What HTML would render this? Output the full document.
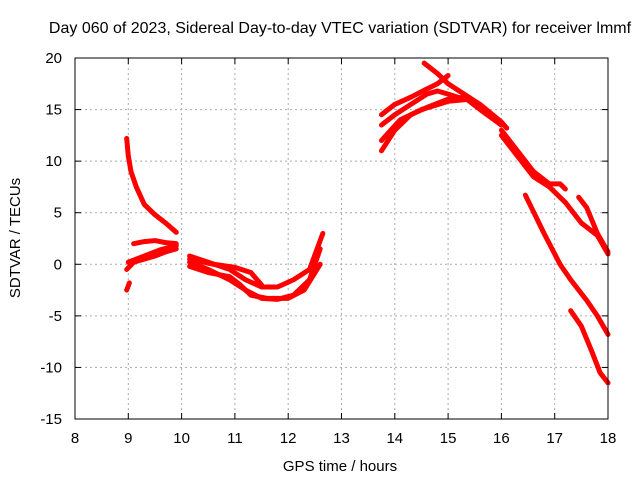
<!DOCTYPE html>
<html><head><meta charset="utf-8"><style>
body{margin:0;background:#fff}
svg{display:block;font-family:"Liberation Sans",sans-serif;font-size:15px}
</style></head><body>
<svg id="chart" width="640" height="480">
<text x="340" y="33" text-anchor="middle" style="font-size:16px">Day 060 of 2023, Sidereal Day-to-day VTEC variation (SDTVAR) for receiver lmmf</text>
<text x="340" y="471" text-anchor="middle">GPS time / hours</text>
<text transform="translate(20,238) rotate(-90)" text-anchor="middle">SDTVAR / TECUs</text>
<g id="grid"></g>
<g id="ticks"></g>
<g id="series"></g>
<rect x="75" y="58" width="533" height="361" fill="none" stroke="#000" stroke-width="1"/>
</svg>
<script>
const xTicks=[8,9,10,11,12,13,14,15,16,17,18];
const yTicks=[-15,-10,-5,0,5,10,15,20];
const s1=[[8.97,12.2],[9.0,10.5],[9.05,9],[9.15,7.5],[9.3,5.8],[9.5,4.8],[9.7,4],[9.9,3.1]];
const s2=[[8.97,-2.5],[9.02,-1.8]];
const s3a=[[8.97,-0.5],[9.1,0.2],[9.3,0.5],[9.5,0.8],[9.7,1.2],[9.9,1.5]];
const s3b=[[9.0,0.2],[9.2,0.6],[9.4,1.0],[9.6,1.4],[9.9,1.8]];
const s3c=[[9.1,2.0],[9.3,2.2],[9.5,2.3],[9.7,2.1],[9.9,2.0]];
const s4a=[[10.15,0.8],[10.5,0.2],[10.9,-0.5],[11.2,-1.5],[11.5,-2.2],[11.8,-2.2],[12.1,-1.5],[12.4,-0.5],[12.65,3.0]];
const s4b=[[10.15,0.2],[10.5,-0.5],[10.9,-1.5],[11.2,-2.5],[11.5,-3.3],[11.8,-3.4],[12.1,-3.0],[12.4,-1.5],[12.6,1.5]];
const s4c=[[10.15,-0.2],[10.5,-0.8],[10.9,-1.2],[11.1,-2.0],[11.3,-3.0],[11.6,-3.3],[12.0,-3.3],[12.3,-2.5],[12.6,0]];
const s4d=[[10.15,0.5],[10.6,0],[11.0,-0.3],[11.3,-0.8],[11.5,-2.0]];
const s5a=[[13.75,14.5],[14.0,15.5],[14.3,16.2],[14.6,17],[14.8,17.5],[15.0,18.3]];
const s5b=[[14.55,19.5],[14.8,18.5],[15.0,17.5],[15.3,16.5],[15.6,15.5],[16.0,13.8],[16.1,13.2]];
const s5c=[[13.75,11],[14.0,13],[14.3,14.5],[14.6,15.2],[15.0,16.0],[15.3,16.2],[15.6,15.0],[16.0,13.5]];
const s5d=[[13.75,13.5],[14.0,14.5],[14.3,15.5],[14.6,16.5],[14.8,16.8],[15.0,16.5],[15.3,16.0]];
const s5e=[[13.75,12],[14.1,14],[14.5,15],[15.0,15.8],[15.4,16.0]];
const s6=[[16.0,13],[16.3,11],[16.6,9],[16.9,7.8],[17.1,7.8],[17.2,7.3]];
const s7=[[16.0,12.5],[16.3,10.5],[16.6,8.5],[16.9,7.5],[17.2,6],[17.5,4],[17.8,2.8],[18.0,1.0]];
const s8=[[17.45,6.5],[17.6,5.5],[17.8,3],[18.0,1.2]];
const s9=[[16.45,6.7],[16.8,3],[17.1,0],[17.3,-1.5],[17.6,-3.5],[17.8,-5],[18.0,-6.8]];
const s10=[[17.3,-4.5],[17.5,-6],[17.7,-8.5],[17.85,-10.5],[18.0,-11.5]];
const allSeries=[s1,s2,s3a,s3b,s3c,s4a,s4b,s4c,s4d,s5a,s5b,s5c,s5d,s5e,s6,s7,s8,s9,s10];

const X0=75,X1=608,Y0=419,Y1=58;
const xs=v=>X0+(v-8)/(18-8)*(X1-X0);
const ys=v=>Y0-(v+15)/(20+15)*(Y0-Y1);
const NS='http://www.w3.org/2000/svg';
const grid=document.getElementById('grid'),ticks=document.getElementById('ticks'),ser=document.getElementById('series');
function mk(t,a,p){const e=document.createElementNS(NS,t);for(const k in a)e.setAttribute(k,a[k]);p.appendChild(e);return e;}
xTicks.forEach(v=>{
  const x=xs(v);
  if(v>8&&v<18){const g=mk('line',{x1:x,x2:x,y1:Y1,y2:Y0,stroke:'#aaa','stroke-dasharray':'2,3'},grid);
  
  }
  mk('line',{x1:x,x2:x,y1:Y0,y2:Y0-6,stroke:'#000'},ticks);
  mk('line',{x1:x,x2:x,y1:Y1,y2:Y1+6,stroke:'#000'},ticks);
  const t=mk('text',{x:x,y:Y0+24,'text-anchor':'middle'},ticks);t.textContent=v;
  
  
});
yTicks.forEach(v=>{
  const y=ys(v);
  if(v>-15&&v<20){const g=mk('line',{x1:X0,x2:X1,y1:y,y2:y,stroke:'#aaa','stroke-dasharray':'2,3'},grid);
  
  }
  mk('line',{x1:X0,x2:X0+6,y1:y,y2:y,stroke:'#000'},ticks);
  mk('line',{x1:X1,x2:X1-6,y1:y,y2:y,stroke:'#000'},ticks);
  const t=mk('text',{x:X0-13,y:y+5,'text-anchor':'end'},ticks);t.textContent=v;
  
  
});
allSeries.forEach(s=>{
  const pl=mk('polyline',{points:s.map(p=>xs(p[0])+','+ys(p[1])).join(' '),fill:'none',stroke:'#f00','stroke-width':5,'stroke-linejoin':'round','stroke-linecap':'round'},ser);
  
  
});
</script>
</body></html>
